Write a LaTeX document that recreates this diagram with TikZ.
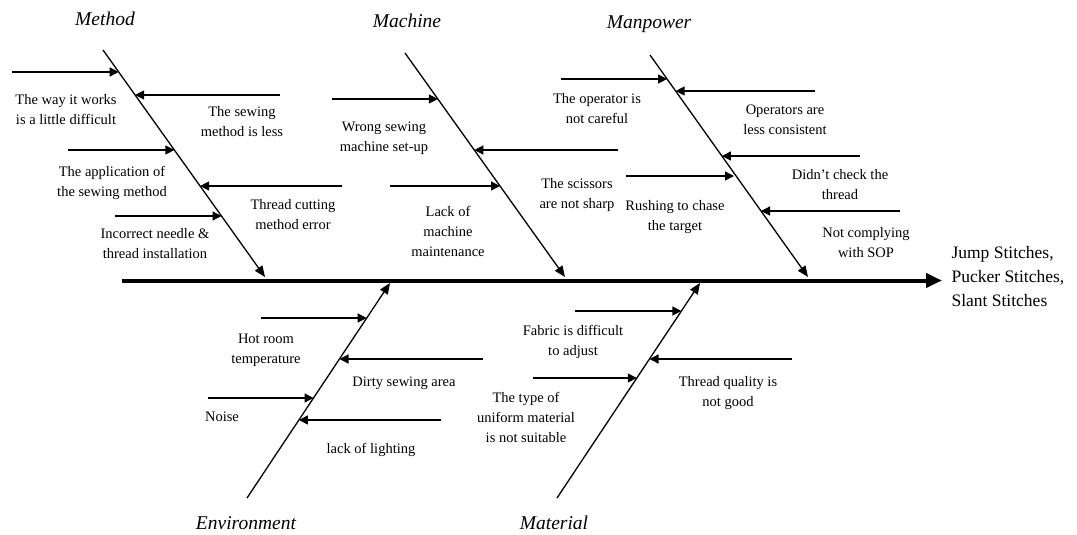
\documentclass[tikz,border=0pt]{standalone}
\usepackage{fontspec}
\setmainfont{Liberation Serif}
\usepackage{tikz}
\usetikzlibrary{arrows.meta}

\begin{document}
\begin{tikzpicture}[x=1pt,y=-1pt,
  bone/.style={line width=1.3pt,-{Triangle[length=11pt,width=9pt]}},
  cause/.style={line width=1.3pt,-{Triangle[length=9pt,width=9pt]}},
  txt/.style={align=center,font=\fontsize{14.5}{20}\selectfont},
  cat/.style={font=\fontsize{19.5}{24}\selectfont\itshape}]
\useasboundingbox (0,0) rectangle (1077,535);

% spine and effect
\coordinate (spL) at (122,280.5);
\coordinate (spR) at (942,280.5);
\draw[line width=4pt,-{Triangle[length=16pt,width=14pt]}] (spL) -- (spR);
\node[anchor=west,align=left,font=\fontsize{17.5}{24}\selectfont] (effect) at (948,277)
  {Jump Stitches,\\Pucker Stitches,\\Slant Stitches};

% Method
\coordinate (metT) at (103,50);
\coordinate (metE) at (265,277);
\draw[bone] (metT) -- (metE);
\node[cat] (method) at (105,19) {Method};
\coordinate (met1s) at (12,72);   \coordinate (met1) at (118.7,72);
\coordinate (met2s) at (280,95);  \coordinate (met2) at (135.1,95);
\coordinate (met3s) at (68,150);  \coordinate (met3) at (174.4,150);
\coordinate (met4s) at (342,186); \coordinate (met4) at (200.1,186);
\coordinate (met5s) at (115,216); \coordinate (met5) at (221.5,216);
\draw[cause] (met1s) -- (met1);
\draw[cause] (met2s) -- (met2);
\draw[cause] (met3s) -- (met3);
\draw[cause] (met4s) -- (met4);
\draw[cause] (met5s) -- (met5);
\node[txt] (metw) at (66,110) {The way it works\\is a little difficult};
\node[txt] (mets) at (242,122) {The sewing\\method is less};
\node[txt] (meta) at (112,183) {The application of\\the sewing method};
\node[txt] (metc) at (293,215) {Thread cutting\\method error};
\node[txt] (metn) at (155,244) {Incorrect needle \&\\thread installation};

% Machine
\coordinate (macT) at (405,53);
\coordinate (macE) at (565,277);
\draw[bone] (macT) -- (macE);
\node[cat] (machine) at (407,21) {Machine};
\coordinate (mac1s) at (332,99);  \coordinate (mac1) at (437.9,99);
\coordinate (mac2s) at (618,150); \coordinate (mac2) at (474.3,150);
\coordinate (mac3s) at (390,186); \coordinate (mac3) at (500,186);
\draw[cause] (mac1s) -- (mac1);
\draw[cause] (mac2s) -- (mac2);
\draw[cause] (mac3s) -- (mac3);
\node[txt] (macw) at (384,138) {Wrong sewing\\machine set-up};
\node[txt] (macs) at (577,195) {The scissors\\are not sharp};
\node[txt] (macl) at (448,231) {Lack of\\machine\\maintenance};

% Manpower
\coordinate (manT) at (650,55);
\coordinate (manE) at (808,277);
\draw[bone] (manT) -- (manE);
\node[cat] (manpower) at (649,24) {Manpower};
\coordinate (man1s) at (561,79);  \coordinate (man1) at (667.1,79);
\coordinate (man2s) at (815,91);  \coordinate (man2) at (675.6,91);
\coordinate (man3s) at (860,156); \coordinate (man3) at (721.9,156);
\coordinate (man4s) at (626,176); \coordinate (man4) at (734,176);
\coordinate (man5s) at (900,211); \coordinate (man5) at (761,211);
\draw[cause] (man1s) -- (man1);
\draw[cause] (man2s) -- (man2);
\draw[cause] (man3s) -- (man3);
\draw[cause] (man4s) -- (man4);
\draw[cause] (man5s) -- (man5);
\node[txt] (mano) at (597,109) {The operator is\\not careful};
\node[txt] (manc) at (785,120) {Operators are\\less consistent};
\node[txt] (mand) at (840,185) {Didn't check the\\thread};
\node[txt] (manr) at (675,217) {Rushing to chase\\the target};
\node[txt] (mans) at (866,243) {Not complying\\with SOP};

% Environment
\coordinate (envB) at (247,498);
\coordinate (envT) at (390,283);
\draw[bone] (envB) -- (envT);
\node[cat] (environment) at (246,523) {Environment};
\coordinate (env1s) at (261,318); \coordinate (env1) at (366.7,318);
\coordinate (env2s) at (483,359); \coordinate (env2) at (339.5,359);
\coordinate (env3s) at (208,398); \coordinate (env3) at (313.5,398);
\coordinate (env4s) at (441,420); \coordinate (env4) at (298.9,420);
\draw[cause] (env1s) -- (env1);
\draw[cause] (env2s) -- (env2);
\draw[cause] (env3s) -- (env3);
\draw[cause] (env4s) -- (env4);
\node[txt] (envh) at (266,350) {Hot room\\temperature};
\node[txt] (envd) at (404,383) {Dirty sewing area};
\node[txt] (envn) at (222,417) {Noise};
\node[txt] (envl) at (371,450) {lack of lighting};

% Material
\coordinate (matB) at (557,498);
\coordinate (matT) at (700,283);
\draw[bone] (matB) -- (matT);
\node[cat] (material) at (554,523) {Material};
\coordinate (mat1s) at (575,311); \coordinate (mat1) at (681.4,311);
\coordinate (mat2s) at (792,359); \coordinate (mat2) at (649.5,359);
\coordinate (mat3s) at (533,378); \coordinate (mat3) at (636.8,378);
\draw[cause] (mat1s) -- (mat1);
\draw[cause] (mat2s) -- (mat2);
\draw[cause] (mat3s) -- (mat3);
\node[txt] (matf) at (573,342) {Fabric is difficult\\to adjust};
\node[txt] (matq) at (728,393) {Thread quality is\\not good};
\node[txt] (matt) at (526,417) {The type of\\uniform material\\is not suitable};
\end{tikzpicture}
\end{document}
